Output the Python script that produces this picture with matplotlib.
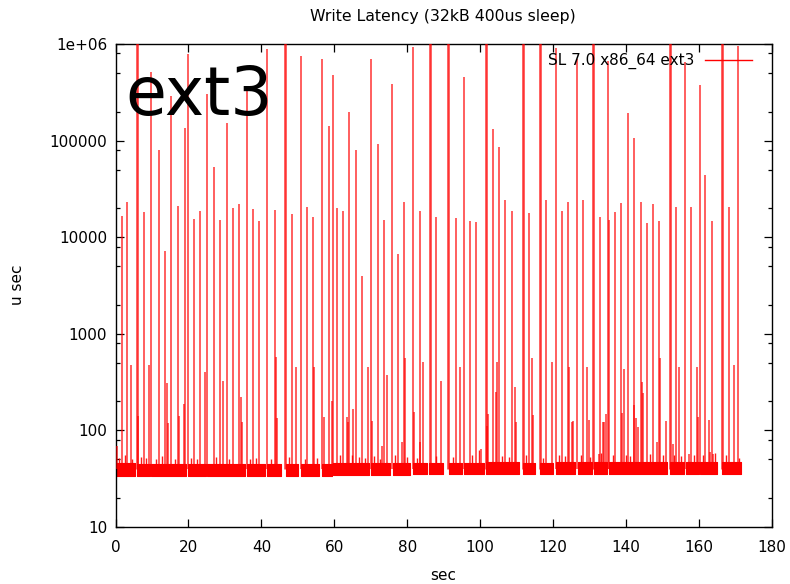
import matplotlib
matplotlib.use("Agg")
import matplotlib.pyplot as plt
from matplotlib.ticker import LogLocator, FuncFormatter, MultipleLocator, NullFormatter, FixedLocator
from matplotlib.lines import Line2D

plt.rcParams['font.family'] = ['DejaVu Sans']

TITLE = "Write Latency (32kB 400us sleep)"
XLABEL = "sec"
YLABEL = "u sec"
SERIES = "SL 7.0 x86_64 ext3"
BIG_LABEL = "ext3"

# latency spikes: time (s) and peak latency (us); values >= 1e6 run off the top
spike_t = [0.49, 1.70, 3.24, 4.25, 5.90, 6.26, 7.74, 9.27, 9.74, 11.85, 13.50, 14.21, 14.49,
           15.31, 17.07, 17.51, 18.80, 18.93, 19.98, 21.46, 23.10, 24.48, 25.19, 26.95,
           28.59, 29.41, 30.51, 32.16, 33.81, 34.35, 34.63, 35.95, 37.65, 39.29, 41.65,
           43.68, 44.04, 44.40, 46.43, 48.35, 49.45, 50.76, 52.46, 54.11, 54.47, 56.53,
           57.29, 58.50, 59.32, 59.76, 60.70, 62.34, 63.44, 63.71, 64.15, 65.09, 65.91,
           67.56, 69.20, 69.97, 70.30, 71.95, 73.04, 73.59, 74.50, 75.68, 77.43, 78.53,
           79.08, 79.25, 81.50, 81.83, 83.36, 83.47, 84.29, 86.11, 87.86, 89.32, 91.24,
           93.35, 94.34, 95.63, 97.27, 98.92, 100.21, 101.47, 101.86, 102.21, 103.50,
           104.32, 104.68, 105.23, 106.88, 108.80, 109.43, 109.70, 111.60, 113.38, 114.29,
           114.56, 116.26, 118.13, 119.55, 120.73, 122.52, 124.16, 124.44, 125.07, 125.54,
           126.55, 128.28, 129.29, 129.92, 131.02, 132.48, 132.94, 133.58, 133.85, 134.40,
           135.14, 135.41, 137.06, 138.71, 138.98, 139.53, 140.63, 142.08, 142.27, 142.63,
           143.29, 144.19, 144.47, 144.75, 145.84, 147.49, 148.39, 149.14, 149.41, 150.86,
           152.07, 152.78, 153.80, 154.43, 156.21, 157.17, 157.91, 159.56, 159.75, 160.16,
           161.76, 162.66, 163.13, 163.49, 163.76, 166.34, 168.15, 169.52, 170.76]
spike_us = [69, 16700, 23200, 477, 2.5e6, 141, 18200, 477, 515000, 80000, 7240, 308, 119,
            290000, 21000, 141, 188, 135000, 795000, 15400, 18700, 407, 307000, 53800,
            15000, 328, 152000, 20100, 22200, 224, 121, 340000, 19600, 14800, 897000,
            19000, 582, 133, 2.5e6, 17500, 452, 746000, 20600, 16200, 458, 707000,
            139, 140000, 200, 483000, 20100, 18800, 139, 121, 200000, 166, 80000,
            3960, 458, 707000, 126, 92500, 69, 15000, 373, 390000, 6700, 75,
            23300, 560, 920000, 156, 75, 18800, 505, 2.5e6, 16300, 328, 2.5e6,
            15800, 452, 460000, 14800, 14400, 64, 2.5e6, 111, 148, 133000,
            249, 505, 86700, 24500, 18800, 283, 123, 2.5e6, 17800, 560,
            145, 2.5e6, 24000, 505, 910000, 18800, 23300, 452, 123, 126,
            700000, 24000, 458, 127, 2.5e6, 57, 16300, 123, 123, 148,
            660000, 14900, 18400, 22700, 152, 430, 194000, 183, 107000, 134,
            109, 23300, 314, 242, 14000, 22200, 75, 14800, 560, 126,
            2.5e6, 73, 20300, 452, 653000, 57, 20700, 452, 139, 372000,
            44500, 127, 60, 14800, 57, 2.5e6, 20700, 477, 950000]

# continuous runs of the ~35-47 us baseline between the big stalls
seg_start = [0.10, 5.98, 9.74, 19.98, 25.19, 36.00, 41.65, 46.70, 50.82, 56.58, 59.76,
             70.03, 75.95, 81.55, 86.02, 91.51, 95.63, 101.66, 111.73, 116.48, 120.87,
             126.72, 131.30, 135.22, 152.15, 156.54, 160.19, 166.34]
seg_end = [5.35, 9.47, 19.34, 24.83, 35.53, 41.02, 45.41, 50.16, 55.92, 59.32, 69.37,
           75.32, 80.81, 85.39, 89.67, 95.00, 100.92, 110.53, 115.11, 119.97, 126.08,
           130.56, 134.78, 151.25, 155.80, 159.92, 164.97, 171.63]
band_lo = [33.5, 33.5, 33.5, 33.5, 33.5, 34, 34, 34, 34, 34, 34.5,
           34.5, 34.5, 35, 35, 35, 35, 35, 35, 35, 35,
           35, 35, 35, 35, 35, 35, 35]
band_hi = [46, 45, 45, 45, 45, 45, 45, 45, 45, 45, 46,
           46, 46, 46, 46, 46, 46, 47, 46, 46, 47,
           47, 47, 47, 47, 47, 47, 47]
# small bumps along the top of the baseline band (time, us)
bump_t = [1.0, 2.6, 4.6, 7.0, 8.4, 11.0, 12.8, 16.2, 20.8, 22.4, 27.5, 31.2, 36.8, 38.5,
          42.6, 47.5, 52.0, 55.2, 61.5, 64.8, 66.8, 68.4, 71.0, 72.6, 76.5, 80.0, 82.6,
          88.0, 92.5, 97.8, 99.8, 105.9, 107.8, 112.6, 117.2, 121.5, 123.2, 127.5, 130.0,
          133.1, 136.4, 140.0, 141.2, 146.6, 150.2, 153.1, 155.0, 158.6, 161.0, 164.4,
          167.3, 171.0]
bump_us = [52, 55, 51, 53, 52, 50, 54, 51, 52, 50, 53, 51, 50, 52, 51, 53, 50, 52, 55,
           56, 53, 52, 54, 51, 55, 53, 52, 54, 53, 55, 62, 54, 53, 55, 52, 56, 54, 55, 53,
           58, 55, 56, 54, 57, 55, 56, 54, 55, 56, 58, 55, 52]

fig = plt.figure(figsize=(7.9, 5.84), dpi=100)
ax = fig.add_axes([115.5 / 790, 57 / 584, 656.5 / 790, 483 / 584])

for s, e, lo, hi in zip(seg_start, seg_end, band_lo, band_hi):
    ax.fill_between([s, e], [lo, lo], [hi, hi], color='#ff0000', lw=0.8, zorder=2)

ax.vlines(bump_t, 40, bump_us, color='#ff0000', lw=1.0, alpha=0.9, zorder=2)

for t, v in zip(spike_t, spike_us):
    lw = 1.8 if v > 1e6 else 1.1
    ax.vlines(t, 40, v, color='#ff0000', lw=lw, alpha=0.8, zorder=3)

ax.set_yscale('log')
ax.set_xlim(0, 180)
ax.set_ylim(10, 1e6)

ax.xaxis.set_major_locator(MultipleLocator(20))
ax.yaxis.set_major_locator(FixedLocator([10, 100, 1000, 10000, 100000, 1e6]))
ax.yaxis.set_minor_locator(LogLocator(base=10, subs=[2, 5, 8]))
ax.yaxis.set_minor_formatter(NullFormatter())

def yfmt(v, pos):
    if v >= 1e6:
        return "1e+06"
    return "%d" % int(round(v))
ax.yaxis.set_major_formatter(FuncFormatter(yfmt))

ax.tick_params(which='both', direction='in', top=True, right=True, labelsize=11,
               colors='black', width=0.9)
ax.tick_params(which='major', length=6)
ax.tick_params(which='minor', length=3)
ax.tick_params(axis='x', pad=9)
ax.tick_params(axis='y', pad=6)
for sp in ax.spines.values():
    sp.set_linewidth(1.0)
    sp.set_color('black')

fig.text(443 / 790, 1 - 16 / 584, TITLE, ha='center', va='center', fontsize=11.3)
fig.text(443 / 790, 1 - 575 / 584, XLABEL, ha='center', va='center', fontsize=11)
fig.text(17 / 790, 1 - 285 / 584, YLABEL, ha='center', va='center', rotation=90, fontsize=11)

ax.text(0.0145, 0.853, BIG_LABEL, transform=ax.transAxes, fontsize=48,
        ha='left', va='baseline', color='black', zorder=5)

handle = Line2D([], [], color='#ff0000', lw=1.0)
ax.legend([handle], [SERIES], loc='center right', bbox_to_anchor=(0.9696, 0.9648),
          frameon=False, markerfirst=False, handlelength=3.1, handletextpad=0.65,
          borderpad=0, borderaxespad=0, fontsize=11)

fig.savefig("out.png", dpi=100)
